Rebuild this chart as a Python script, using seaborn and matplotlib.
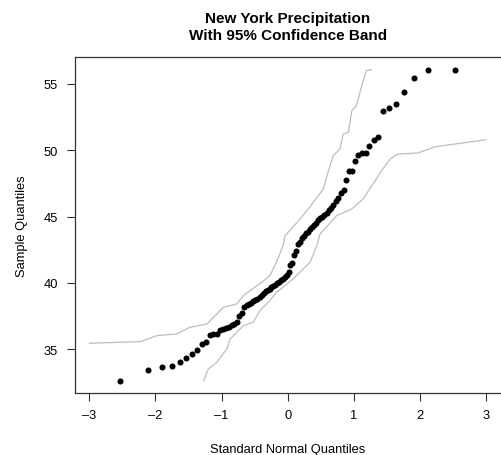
from statistics import NormalDist

import matplotlib
matplotlib.use("Agg")
import matplotlib.pyplot as plt
import pandas as pd
import seaborn as sns

# Sorted annual precipitation values (inches)
precip = [
    32.64, 33.45, 33.65, 33.75, 34.07, 34.35, 34.68, 34.95, 35.43, 35.56,
    36.06, 36.14, 36.18, 36.46, 36.54, 36.63, 36.72, 36.84, 36.91, 37.06,
    37.52, 37.74, 38.20, 38.31, 38.42, 38.49, 38.61, 38.68, 38.76, 38.95,
    39.13, 39.25, 39.36, 39.44, 39.51, 39.66, 39.77, 39.85, 39.96, 40.05,
    40.19, 40.30, 40.45, 40.60, 40.83, 41.36, 41.54, 42.11, 42.41, 42.94,
    43.09, 43.39, 43.56, 43.73, 43.84, 44.03, 44.18, 44.33, 44.52, 44.74,
    44.86, 44.97, 45.12, 45.27, 45.50, 45.65, 45.87, 46.17, 46.40, 46.78,
    46.97, 47.76, 48.46, 48.46, 49.19, 49.66, 49.77, 49.79, 50.29, 50.79,
    50.97, 52.97, 53.18, 53.48, 54.36, 55.46, 56.06, 56.06,
]

# Upper limit of the 95% band
upper_q = [-3.00, -2.23, -1.98, -1.68, -1.48, -1.22, -1.12, -0.97, -0.77, -0.67,
           -0.57, -0.39, -0.27, -0.17, -0.07, -0.04, 0.19, 0.39, 0.54, 0.61,
           0.69, 0.79, 0.84, 0.92, 0.97, 1.04, 1.12, 1.19, 1.27]
upper_v = [35.46, 35.58, 36.03, 36.16, 36.66, 36.91, 37.42, 38.17, 38.42, 39.04,
           39.42, 40.05, 40.55, 41.56, 42.81, 43.56, 44.82, 46.08, 47.08, 48.34,
           49.59, 50.09, 51.22, 51.35, 52.97, 53.35, 54.86, 55.99, 56.08]

# Lower limit of the 95% band
lower_q = [-1.27, -1.20, -1.07, -0.92, -0.87, -0.77, -0.67, -0.52, -0.42, -0.27,
           -0.17, -0.04, 0.08, 0.21, 0.34, 0.44, 0.49, 0.74, 0.97, 1.14,
           1.24, 1.34, 1.42, 1.55, 1.67, 1.97, 2.23, 3.00]
lower_v = [32.64, 33.52, 34.03, 35.03, 35.78, 36.29, 36.78, 37.04, 37.91, 38.67,
           39.30, 39.80, 40.30, 40.93, 41.56, 42.81, 43.69, 45.07, 45.57, 46.33,
           47.08, 47.83, 48.46, 49.34, 49.71, 49.79, 50.26, 50.79]

x_ticks = [-3, -2, -1, 0, 1, 2, 3]
y_ticks = [35, 40, 45, 50, 55]

n = len(precip)
theo = [NormalDist().inv_cdf((i + 0.5) / n) for i in range(n)]
pts = pd.DataFrame({"q": theo, "v": precip})
up = pd.DataFrame({"q": upper_q, "v": upper_v})
lo = pd.DataFrame({"q": lower_q, "v": lower_v})

sns.set_style("ticks")
plt.rcParams["font.family"] = ["Liberation Sans", "DejaVu Sans"]
plt.rcParams["text.color"] = "black"
plt.rcParams["axes.labelcolor"] = "black"
plt.rcParams["xtick.color"] = "black"
plt.rcParams["ytick.color"] = "black"

fig = plt.figure(figsize=(5.01, 4.56), dpi=100)
ax = fig.add_axes([74.7 / 501, 1 - 393.5 / 456, (500.6 - 74.7) / 501, (393.5 - 58) / 456])

band_kw = dict(color="#bdbdbd", linewidth=0.9, sort=False, estimator=None, ax=ax)
sns.lineplot(data=up, x="q", y="v", **band_kw)
sns.lineplot(data=lo, x="q", y="v", **band_kw)
sns.scatterplot(data=pts, x="q", y="v", color="black", s=19, linewidth=0, ax=ax, zorder=3)

ax.set_xlim(-3.22, 3.22)
ax.set_ylim(31.75, 57.02)
ax.set_xticks(x_ticks)
ax.set_yticks(y_ticks)
ax.set_xticklabels([str(t).replace("-", "\u2013") for t in x_ticks])
ax.tick_params(axis="both", length=6, width=0.8, color="#333333", labelsize=9.3, pad=6)
for side in ("left", "bottom", "top"):
    ax.spines[side].set_visible(True)
    ax.spines[side].set_color("#333333")
    ax.spines[side].set_linewidth(0.9)
ax.spines["right"].set_visible(False)

ax.set_xlabel("Standard Normal Quantiles", fontsize=9.3, labelpad=16)
ax.set_ylabel("Sample Quantiles", fontsize=9.3, labelpad=11)
ax.set_title("New York Precipitation\nWith 95% Confidence Band",
             fontsize=11, fontweight="bold", pad=13, linespacing=1.3)

fig.savefig("out.png", dpi=100)
